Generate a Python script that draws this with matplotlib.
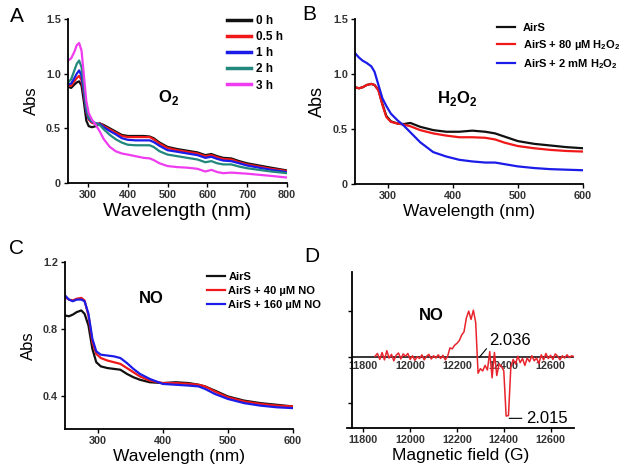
import numpy as np
import matplotlib
matplotlib.use("Agg")
import matplotlib.pyplot as plt

plt.rcParams['font.family'] = ['Liberation Sans', 'DejaVu Sans']
plt.rcParams['mathtext.fontset'] = 'custom'
plt.rcParams['mathtext.rm'] = 'Liberation Sans'
plt.rcParams['mathtext.bf'] = 'Liberation Sans:bold'

# ---- panel A: O2 time course ----
wl_a = [250, 258, 266, 272, 278, 284, 290, 296, 302, 310, 320, 330, 340, 355, 370, 385,
        400, 420, 440, 455, 465, 480, 500, 525, 550, 575, 595, 610, 625, 640, 660, 680,
        700, 730, 760, 800]
abs_0h = [0.88, 0.87, 0.90, 0.92, 0.93, 0.89, 0.74, 0.57, 0.52, 0.51, 0.52, 0.545, 0.53, 0.50,
          0.47, 0.44, 0.43, 0.43, 0.43, 0.425, 0.41, 0.37, 0.33, 0.31, 0.295, 0.28, 0.255,
          0.265, 0.245, 0.23, 0.225, 0.20, 0.18, 0.16, 0.14, 0.115]
abs_05h = [0.89, 0.89, 0.93, 0.96, 0.98, 0.94, 0.81, 0.65, 0.58, 0.55, 0.54, 0.545, 0.52, 0.49,
           0.46, 0.43, 0.42, 0.42, 0.42, 0.42, 0.40, 0.36, 0.32, 0.30, 0.285, 0.27, 0.245,
           0.255, 0.235, 0.22, 0.215, 0.19, 0.17, 0.15, 0.13, 0.11]
abs_1h = [0.90, 0.91, 0.96, 1.00, 1.03, 0.98, 0.83, 0.66, 0.59, 0.56, 0.545, 0.54, 0.51, 0.475,
          0.445, 0.41, 0.395, 0.39, 0.39, 0.39, 0.375, 0.34, 0.30, 0.285, 0.27, 0.255, 0.23,
          0.24, 0.22, 0.205, 0.20, 0.18, 0.16, 0.14, 0.12, 0.10]
abs_2h = [0.92, 0.95, 1.03, 1.09, 1.12, 1.06, 0.88, 0.69, 0.60, 0.565, 0.545, 0.53, 0.49, 0.44,
          0.40, 0.37, 0.35, 0.345, 0.345, 0.345, 0.33, 0.29, 0.26, 0.245, 0.23, 0.215, 0.19,
          0.20, 0.18, 0.17, 0.17, 0.15, 0.135, 0.12, 0.105, 0.09]
abs_3h = [1.12, 1.14, 1.20, 1.26, 1.28, 1.21, 0.98, 0.75, 0.64, 0.58, 0.53, 0.47, 0.40, 0.33,
          0.29, 0.27, 0.26, 0.245, 0.23, 0.225, 0.21, 0.18, 0.155, 0.145, 0.14, 0.13, 0.105,
          0.12, 0.10, 0.09, 0.095, 0.09, 0.085, 0.075, 0.065, 0.05]
labels_a = ['0 h', '0.5 h', '1 h', '2 h', '3 h']
colors_a = ['#111111', '#f01818', '#1c1ce8', '#22877c', '#f03cf0']

# ---- panel B: H2O2 ----
wl_b = [250, 256, 262, 268, 275, 280, 286, 292, 298, 305, 315, 325, 335, 350, 370, 390,
        410, 430, 450, 465, 480, 500, 525, 550, 575, 600]
b_airs = [0.88, 0.87, 0.88, 0.90, 0.91, 0.90, 0.855, 0.73, 0.62, 0.57, 0.55, 0.545, 0.555,
          0.52, 0.49, 0.475, 0.475, 0.485, 0.475, 0.46, 0.43, 0.39, 0.365, 0.35, 0.335, 0.325]
b_80um = [0.88, 0.87, 0.88, 0.90, 0.91, 0.90, 0.85, 0.72, 0.61, 0.565, 0.55, 0.54, 0.525,
          0.49, 0.46, 0.44, 0.425, 0.425, 0.42, 0.405, 0.375, 0.345, 0.325, 0.31, 0.30, 0.295]
b_2mm = [1.19, 1.15, 1.12, 1.10, 1.07, 1.02, 0.90, 0.78, 0.71, 0.64, 0.58, 0.53, 0.47, 0.38,
         0.29, 0.25, 0.22, 0.205, 0.195, 0.195, 0.18, 0.16, 0.145, 0.135, 0.13, 0.125]
labels_b = ['AirS', r'AirS + 80 µM H$_\mathbf{2}$O$_\mathbf{2}$',
            r'AirS + 2 mM H$_\mathbf{2}$O$_\mathbf{2}$']

# ---- panel C: NO ----
wl_c = [250, 256, 262, 268, 275, 280, 286, 292, 298, 305, 315, 325, 335, 345, 355, 365,
        380, 400, 420, 440, 455, 465, 480, 500, 525, 550, 575, 600]
c_airs = [0.88, 0.875, 0.885, 0.90, 0.91, 0.89, 0.82, 0.68, 0.60, 0.575, 0.565, 0.56, 0.555,
          0.53, 0.51, 0.495, 0.48, 0.475, 0.48, 0.475, 0.465, 0.455, 0.43, 0.395, 0.37,
          0.355, 0.345, 0.335]
c_40um = [0.99, 0.975, 0.97, 0.98, 0.985, 0.97, 0.88, 0.72, 0.65, 0.625, 0.61, 0.60, 0.59,
          0.565, 0.54, 0.515, 0.49, 0.475, 0.475, 0.47, 0.465, 0.455, 0.425, 0.39, 0.365,
          0.35, 0.34, 0.335]
c_160um = [1.00, 0.975, 0.965, 0.975, 0.975, 0.965, 0.89, 0.74, 0.665, 0.645, 0.64, 0.635,
           0.625, 0.595, 0.56, 0.53, 0.50, 0.47, 0.465, 0.46, 0.455, 0.44, 0.41, 0.38, 0.355,
           0.34, 0.33, 0.325]
labels_c = ['AirS', 'AirS + 40 µM NO', 'AirS + 160 µM NO']

# ---- panel D: EPR ----
field_d = np.arange(11850, 12701, 10)
epr_d = [0.02, 0.08, -0.05, 0.10, -0.06, 0.14, -0.02, 0.06, -0.08, 0.04, 0.09, -0.04, 0.07,
         0.02, 0.08, -0.05, 0.03, -0.07, 0.01, -0.03, 0.05, -0.06, 0.02, 0.06, -0.04, 0.03,
         -0.02, 0.05, -0.03, 0.04, -0.06, 0.02,
         0.20, 0.18, 0.26, 0.30, 0.36, 0.48, 0.55, 0.85, 1.00, 0.82, 1.02, 0.75,
         -0.35, -0.25, -0.30, -0.18, -0.28, 0.12, -0.45, 0.10, -0.40, -0.15, -0.20, -0.30,
         -1.28, -1.27, -0.22,
         -0.05, -0.15, 0.02, -0.12, -0.03, -0.18, -0.02, -0.10, 0.03, -0.08, -0.02, -0.14,
         0.05, -0.06, 0.08, -0.03, 0.04, -0.05, 0.07, 0.02, -0.06, 0.03, -0.02, 0.05, -0.01,
         0.03, 0.01]
field_ticks = [11800, 12000, 12200, 12400, 12600]

W, H = 619, 475
fig = plt.figure(figsize=(W / 100, H / 100), dpi=100)


def px_axes(l, t, r, b):
    return fig.add_axes([l / W, 1 - b / H, (r - l) / W, (b - t) / H])


def style(ax):
    for s in ['top', 'right']:
        ax.spines[s].set_visible(False)
    for s in ['left', 'bottom']:
        ax.spines[s].set_linewidth(1.3)
    ax.tick_params(direction='out', length=3, width=1, pad=2, labelsize=7.8,
                   labelcolor='#333333')
    for lab in ax.get_xticklabels() + ax.get_yticklabels():
        lab.set_fontweight('bold')


# panel A
ax = px_axes(68, 19, 287, 183)
for y, c, l in zip([abs_0h, abs_05h, abs_1h, abs_2h, abs_3h], colors_a, labels_a):
    ax.plot(wl_a, y, color=c, lw=1.6, label=l)
ax.set_xlim(250, 800)
ax.set_ylim(0, 1.5)
ax.set_xticks([300, 400, 500, 600, 700, 800])
ax.set_yticks([0, 0.5, 1.0, 1.5])
ax.set_yticklabels(['0', '0.5', '1.0', '1.5'])
style(ax)
ax.set_xlabel('Wavelength (nm)', fontsize=14, labelpad=2)
ax.set_ylabel('Abs', fontsize=12, labelpad=5)
leg = ax.legend(loc='upper left', bbox_to_anchor=(0.70, 1.06), frameon=False,
                prop={'weight': 'bold', 'size': 8.5}, handlelength=2.0,
                handletextpad=0.4, labelspacing=0.35, borderpad=0)
for ln in leg.get_lines():
    ln.set_linewidth(2.5)
ax.text(0.46, 0.52, r'O$_\mathbf{2}$', transform=ax.transAxes, fontsize=12,
        fontweight='bold', ha='center', va='center')

# panel B
ax = px_axes(355, 19, 583, 184)
ax.plot(wl_b, b_airs, color='#111111', lw=1.6, label=labels_b[0])
ax.plot(wl_b, b_80um, color='#f01818', lw=1.6, label=labels_b[1])
ax.plot(wl_b, b_2mm, color='#1c1ce8', lw=1.6, label=labels_b[2])
ax.set_xlim(250, 600)
ax.set_ylim(0, 1.5)
ax.set_xticks([300, 400, 500, 600])
ax.set_yticks([0, 0.5, 1.0, 1.5])
ax.set_yticklabels(['0', '0.5', '1.0', '1.5'])
style(ax)
ax.set_xlabel('Wavelength (nm)', fontsize=12.5, labelpad=2)
ax.set_ylabel('Abs', fontsize=13, labelpad=5)
ax.legend(loc='upper left', bbox_to_anchor=(0.60, 1.01), frameon=False,
          prop={'weight': 'bold', 'size': 8}, handlelength=1.6,
          handletextpad=0.7, labelspacing=0.45, borderpad=0)
ax.text(0.45, 0.52, r'H$_\mathbf{2}$O$_\mathbf{2}$', transform=ax.transAxes, fontsize=12,
        fontweight='bold', ha='center', va='center')

# panel C
ax = px_axes(65, 262, 293, 429)
ax.plot(wl_c, c_airs, color='#111111', lw=1.6, label=labels_c[0])
ax.plot(wl_c, c_40um, color='#f01818', lw=1.6, label=labels_c[1])
ax.plot(wl_c, c_160um, color='#1c1ce8', lw=1.6, label=labels_c[2])
ax.set_xlim(250, 600)
ax.set_ylim(0.2, 1.2)
ax.set_xticks([300, 400, 500, 600])
ax.set_yticks([0.4, 0.8, 1.2])
style(ax)
ax.set_xlabel('Wavelength (nm)', fontsize=12.5, labelpad=2)
ax.set_ylabel('Abs', fontsize=12, labelpad=5)
ax.legend(loc='upper left', bbox_to_anchor=(0.60, 0.975), frameon=False,
          prop={'weight': 'bold', 'size': 8}, handlelength=1.6,
          handletextpad=0.3, labelspacing=0.35, borderpad=0)
ax.text(0.38, 0.78, 'NO', transform=ax.transAxes, fontsize=12,
        fontweight='bold', ha='center', va='center')

# panel D
ax = px_axes(347, 272, 574, 428)
ax.hlines(0, 11750, 12700, color='black', lw=1.1, zorder=1)
for t in field_ticks:
    ax.annotate(str(t), (t, 0), xytext=(0, -3), textcoords='offset points',
                ha='center', va='top', fontsize=7.8, fontweight='bold', color='#333333',
                zorder=1)
ax.plot(field_d, epr_d, color='#e8242c', lw=1.1, zorder=2)
ax.set_xlim(11730, 12700)
ax.set_ylim(-1.54, 1.85)
ax.spines['left'].set_position(('data', 11750))
ax.set_xticks(field_ticks)
ax.set_yticks([-1, 0, 1])
ax.set_yticklabels([])
style(ax)
ax.set_xlabel('Magnetic field (G)', fontsize=12.5, labelpad=2)
ax.annotate('2.036', xy=(12296, 0.0), xytext=(12338, 0.37), fontsize=12,
            ha='left', va='center',
            arrowprops=dict(arrowstyle='-', lw=0.8, color='black', relpos=(0, 0.15),
                            shrinkA=0, shrinkB=0))
ax.annotate('2.015', xy=(12423, -1.33), xytext=(12495, -1.33), fontsize=12,
            ha='left', va='center',
            arrowprops=dict(arrowstyle='-', lw=0.8, color='black', relpos=(0, 0.5),
                            shrinkA=1, shrinkB=0))
ax.text(12092, 0.9, 'NO', fontsize=12, fontweight='bold', ha='center', va='center')

# panel letters
for s, x, y in [('A', 17, 16), ('B', 309, 14), ('C', 16, 248), ('D', 312, 257)]:
    fig.text(x / W, 1 - y / H, s, fontsize=15, ha='center', va='center')

fig.savefig('out.png', dpi=100)
